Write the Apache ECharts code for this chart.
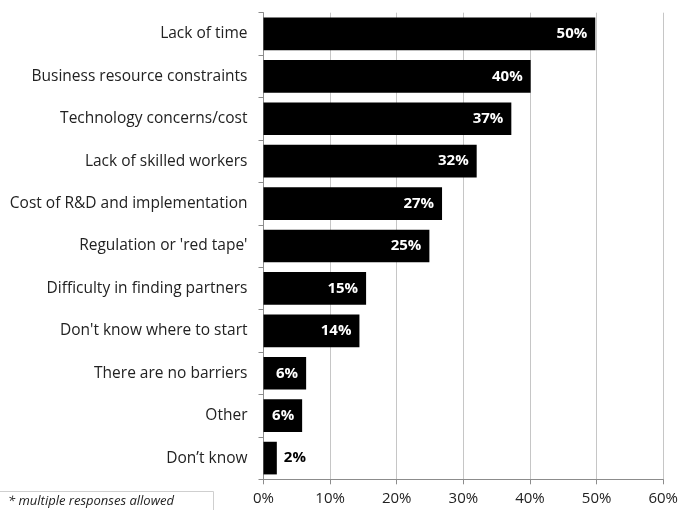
<!DOCTYPE html>
<html>
<head>
<meta charset="utf-8">
<script src="https://cdn.jsdelivr.net/npm/echarts@6/dist/echarts.min.js"></script>
<style>
  html, body { margin: 0; padding: 0; background: #fff; }
  #chart { width: 681px; height: 510px; }
</style>
</head>
<body>
<div id="chart"></div>
<script>
// Barriers, listed top to bottom
const categories = [
  'Lack of time',
  'Business resource constraints',
  'Technology concerns/cost',
  'Lack of skilled workers',
  'Cost of R&D and implementation',
  "Regulation or 'red tape'",
  'Difficulty in finding partners',
  "Don't know where to start",
  'There are no barriers',
  'Other',
  'Don\u2019t know'
];
// Share of respondents (%)
const values = [49.8, 40.1, 37.2, 32.0, 26.8, 24.9, 15.4, 14.4, 6.4, 5.8, 2.0];
const tickLabels = ['0%', '10%', '20%', '30%', '40%', '50%', '60%'];
const footnote = '* multiple responses allowed';

const FONT = '"Open Sans", sans-serif';

const chart = echarts.init(document.getElementById('chart'), null, { renderer: 'canvas' });

const seriesData = values.map(v => {
  const small = v < 4;
  return {
    value: v,
    label: small
      ? { position: 'right', distance: 7, color: '#000' }
      : { position: 'insideRight', distance: 8, color: '#fff' }
  };
});

chart.setOption({
  animation: false,
  grid: { left: 263.5, right: 16.7, top: 12.7, bottom: 30.7, containLabel: false },
  xAxis: {
    type: 'value',
    min: 0,
    max: 60,
    interval: 10,
    axisLine: { show: true, lineStyle: { color: '#8c8c8c', width: 1 } },
    axisTick: { show: true, length: 5, lineStyle: { color: '#8c8c8c' } },
    axisLabel: {
      margin: 12,
      fontFamily: FONT,
      fontSize: 15,
      color: '#222'
    ,
      formatter: (v) => tickLabels[Math.round(v / 10)]
    },
    splitLine: { show: true, lineStyle: { color: '#c6c6c6', width: 1 } }
  },
  yAxis: {
    type: 'category',
    data: categories,
    inverse: true,
    axisLine: { show: true, lineStyle: { color: '#8c8c8c', width: 1 } },
    axisTick: { show: true, length: 5, lineStyle: { color: '#8c8c8c' } },
    axisLabel: {
      margin: 16,
      fontFamily: FONT,
      fontSize: 15.5,
      color: '#222'
    },
    splitLine: { show: false }
  },
  series: [{
    type: 'bar',
    data: seriesData,
    barCategoryGap: '23%',
    itemStyle: { color: '#000' },
    label: {
      show: true,
      fontFamily: FONT,
      fontSize: 15,
      fontWeight: 'bold',
      formatter: (p) => Math.round(p.value) + '%'
    }
  }],
  graphic: [
    {
      type: 'polyline',
      shape: { points: [[0, 491.5], [213.5, 491.5], [213.5, 510]] },
      style: { stroke: '#cfcfcf', lineWidth: 1, fill: null }
    },
    {
      type: 'text',
      left: 8,
      top: 495,
      style: {
        text: footnote,
        font: 'italic 13px ' + FONT,
        fill: '#222'
      }
    }
  ]
});
</script>
</body>
</html>
